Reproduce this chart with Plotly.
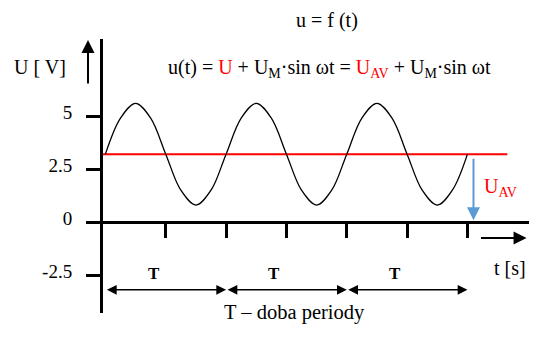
import plotly.graph_objects as go

# ---------------- data ----------------
period = 1.0                 # one period T (time unit)
u_av = 3.2                   # mean value U_AV
t_samples = [0.0, 0.125, 0.25, 0.375, 0.5, 0.625, 0.75, 0.875,
             1.0, 1.125, 1.25, 1.375, 1.5, 1.625, 1.75, 1.875,
             2.0, 2.125, 2.25, 2.375, 2.5, 2.625, 2.75, 2.875, 3.0]
u_samples = [3.2, 4.9, 5.6, 4.9, 3.2, 1.5, 0.8, 1.5,
             3.2, 4.9, 5.6, 4.9, 3.2, 1.5, 0.8, 1.5,
             3.2, 4.9, 5.6, 4.9, 3.2, 1.5, 0.8, 1.5, 3.2]
y_tick_vals = [5, 2.5, 0, -2.5]
y_tick_text = ["5", "2.5", "0", "-2.5"]
t_tick_vals = [0.5, 1.0, 1.5, 2.0, 2.5, 3.0]
period_starts = [0.0, 1.0, 2.0]
period_labels = ["T", "T", "T"]

# ---------------- layout geometry ----------------
W, H = 540, 345
PL, PR, PT, PB = 103, 529, 39, 313
X_RANGE = [-0.02, 3.51]
Y_RANGE = [-4.292, 8.632]
FONT = "Liberation Serif"
RED = "#ff0000"
BLUE = "#5b9bd5"


def paper_x(px):
    return (px - PL) / (PR - PL)


def paper_y(py):
    return (PB - py) / (PB - PT)


fig = go.Figure()

# U_AV line
fig.add_shape(type="line", xref="x", yref="y", x0=X_RANGE[0], x1=3.33,
              y0=u_av, y1=u_av, line=dict(color=RED, width=2), layer="below")

# signal
fig.add_trace(go.Scatter(x=t_samples, y=u_samples, mode="lines",
                         line=dict(color="black", width=1.3, shape="spline", smoothing=1.0),
                         hoverinfo="skip", showlegend=False))


def text(x, y, s, size=20, color="black", bold=False, xref="paper", yref="paper"):
    if bold:
        s = "<b>%s</b>" % s
    fig.add_annotation(x=x, y=y, xref=xref, yref=yref, text=s, showarrow=False,
                       xanchor="center", yanchor="middle",
                       font=dict(family=FONT, size=size, color=color))


def arrow(**kw):
    fig.add_annotation(text="", showarrow=True, **kw)


text(paper_x(327), paper_y(21), "u = f (t)")
text(paper_x(329), paper_y(68),
     'u(t) = <span style="color:%s">U</span> + U<sub>M</sub>·sin ωt = '
     '<span style="color:%s">U<sub>AV</sub></span> + U<sub>M</sub>·sin ωt' % (RED, RED))
text(paper_x(40), paper_y(67), "U [ V]")
text(paper_x(500), paper_y(188), "U<sub>AV</sub>", color=RED)
text(paper_x(510), paper_y(268), "t [s]")
text(paper_x(294), paper_y(312), "T – doba periody", size=20.5)

# period arrows with T labels
for start, lab in zip(period_starts, period_labels):
    arrow(x=start + period, y=-3.2, ax=start, ay=-3.2,
          xref="x", yref="y", axref="x", ayref="y", arrowside="end+start",
          arrowhead=2, startarrowhead=2, arrowsize=1.3, startarrowsize=1.3,
          arrowwidth=1.5, arrowcolor="black")
    text(start + 0.4 * period, -2.44, lab, size=17, bold=True, xref="x", yref="y")

# U_AV arrow (blue) down to zero
arrow(x=3.05, y=0.08, ax=3.05, ay=u_av - 0.15,
      xref="x", yref="y", axref="x", ayref="y",
      arrowhead=2, arrowsize=1.3, arrowwidth=2, arrowcolor=BLUE)

# time-axis arrow
arrow(x=3.49, y=-0.75, ax=3.1, ay=-0.75,
      xref="x", yref="y", axref="x", ayref="y",
      arrowhead=2, arrowsize=1.3, arrowwidth=2, arrowcolor="black")

# voltage-axis arrow
arrow(x=paper_x(88), y=paper_y(40), xref="paper", yref="paper",
      ax=0, ay=45, axref="pixel", ayref="pixel",
      arrowhead=2, arrowsize=1.3, arrowwidth=2, arrowcolor="black")

fig.update_layout(
    width=W, height=H,
    margin=dict(l=PL, r=W - PR, t=PT, b=H - PB, pad=0),
    paper_bgcolor="white", plot_bgcolor="white",
    showlegend=False,
    xaxis=dict(range=X_RANGE, anchor="free",
               position=(0 - Y_RANGE[0]) / (Y_RANGE[1] - Y_RANGE[0]),
               showline=True, linewidth=3, linecolor="black",
               ticks="outside", ticklen=14, tickwidth=3, tickcolor="black",
               tickvals=t_tick_vals, showticklabels=False,
               showgrid=False, zeroline=False, fixedrange=True),
    yaxis=dict(range=Y_RANGE, showline=True, linewidth=3, linecolor="black",
               ticks="outside", ticklen=14, tickwidth=3, tickcolor="black",
               tickvals=y_tick_vals, ticktext=y_tick_text,
               tickfont=dict(family=FONT, size=19, color="black"),
               ticklabelstandoff=10, ticklabelshift=-4,
               showgrid=False, zeroline=False, fixedrange=True),
)

fig.write_html("out.html")
